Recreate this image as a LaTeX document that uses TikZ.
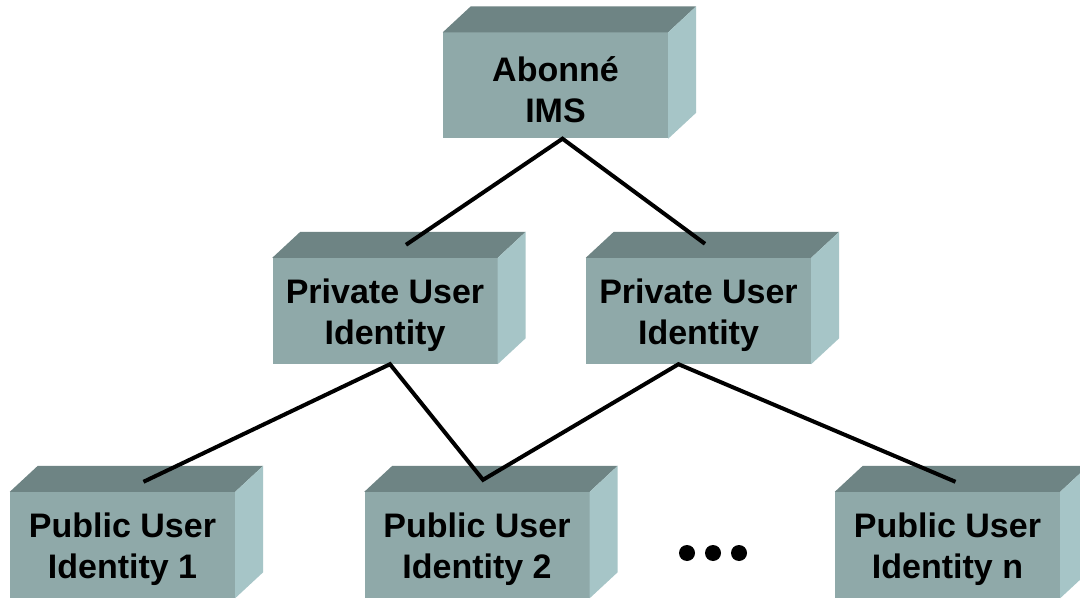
\documentclass[tikz,border=0pt]{standalone}
\usepackage{fontspec}
\setmainfont{Liberation Sans}
\usetikzlibrary{calc}
\definecolor{frontc}{RGB}{143,169,169}
\definecolor{topc}{RGB}{110,132,132}
\definecolor{sidec}{RGB}{166,197,199}
\newcommand\boxfaces[1]{%
  \fill[topc] (#1.north west) -- ++(28,-26) -- ($(#1.north east)+(28,-26)$) -- (#1.north east) -- cycle;
  \fill[sidec] (#1.north east) -- ++(28,-26) -- ($(#1.south east)+(28,-26)$) -- (#1.south east) -- cycle;}
\begin{document}
\begin{tikzpicture}[x=1pt,y=-1pt,
  cube/.style={fill=frontc, draw=none, inner sep=0pt, minimum width=225pt, minimum height=106pt,
    label={[cubetext]center:#1}},
  cubetext/.style={align=center, yshift=-4.5pt, font=\bfseries\fontsize{34}{41}\selectfont},
  link/.style={line width=4pt, black, line join=miter}]
\useasboundingbox (0,0) rectangle (1080,599);
\clip (0,0) rectangle (1080,599);
\fill[white] (0,0) rectangle (1080,599);
\node[cube={Abonné\\IMS}] (ims) at (555.5,85.5) {};
\node[cube={Private User\\Identity}] (p1) at (385,311) {};
\node[cube={Private User\\Identity}] (p2) at (698.5,311) {};
\node[cube={Public User\\Identity 1}] (u1) at (122.5,545) {};
\node[cube={Public User\\Identity 2}] (u2) at (477,545) {};
\node[cube={Public User\\Identity n}] (un) at (947.5,545) {};
\boxfaces{ims}
\boxfaces{p1}
\boxfaces{p2}
\boxfaces{u1}
\boxfaces{u2}
\boxfaces{un}
\coordinate (imsb) at ($(ims.south)+(7,0)$);
\coordinate (p1t) at ($(p1.north)+(21,-13)$);
\coordinate (p2t) at ($(p2.north)+(6.5,-14)$);
\coordinate (p1b) at ($(p1.south)+(5,0)$);
\coordinate (p2b) at ($(p2.south)+(-20,0)$);
\coordinate (u1t) at ($(u1.north)+(21,-10)$);
\coordinate (u2t) at ($(u2.north)+(6,-12)$);
\coordinate (unt) at ($(un.north)+(8,-10)$);
\draw[link] (p1t) -- (imsb) -- (p2t);
\draw[link] (u1t) -- (p1b) -- (u2t) -- (p2b) -- (unt);
\foreach \x [count=\i] in {687,713,739} \fill[black] (\x,553) circle (8) node (dot\i) {};
\end{tikzpicture}
\end{document}
